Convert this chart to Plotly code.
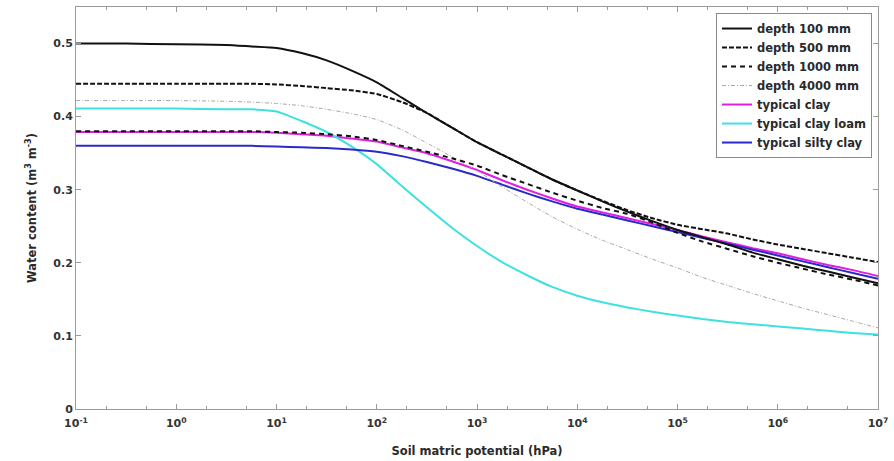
import plotly.graph_objects as go

# Soil matric potential sample points (hPa), as log10 exponents
log_h = [-1, -0.5, 0, 0.5, 0.75, 1, 1.25, 1.5, 1.75, 2, 2.25, 2.5, 2.75, 3, 3.25, 3.5, 3.75,
         4, 4.25, 4.5, 4.75, 5, 5.25, 5.5, 5.75, 6, 6.25, 6.5, 6.75, 7]
potential = [10 ** v for v in log_h]

depth_100 = [0.500, 0.500, 0.499, 0.498, 0.496, 0.494, 0.487, 0.477, 0.463, 0.447, 0.426, 0.405,
             0.385, 0.365, 0.348, 0.331, 0.314, 0.299, 0.284, 0.270, 0.257, 0.245, 0.235, 0.225,
             0.214, 0.205, 0.196, 0.188, 0.180, 0.172]
depth_500 = [0.445, 0.445, 0.445, 0.445, 0.445, 0.444, 0.442, 0.439, 0.436, 0.431, 0.420, 0.405,
             0.385, 0.365, 0.348, 0.331, 0.314, 0.299, 0.285, 0.272, 0.261, 0.252, 0.246, 0.240,
             0.232, 0.225, 0.219, 0.213, 0.207, 0.201]
depth_1000 = [0.380, 0.380, 0.380, 0.380, 0.380, 0.379, 0.378, 0.376, 0.373, 0.368, 0.360, 0.352,
              0.343, 0.333, 0.320, 0.308, 0.296, 0.285, 0.275, 0.267, 0.255, 0.241, 0.229, 0.219,
              0.209, 0.200, 0.192, 0.184, 0.177, 0.169]
depth_4000 = [0.422, 0.422, 0.422, 0.421, 0.420, 0.418, 0.415, 0.410, 0.404, 0.396, 0.382, 0.364,
              0.345, 0.326, 0.304, 0.283, 0.263, 0.246, 0.231, 0.218, 0.205, 0.193, 0.180, 0.169,
              0.158, 0.148, 0.138, 0.129, 0.120, 0.111]
typical_clay = [0.379, 0.379, 0.379, 0.379, 0.379, 0.378, 0.376, 0.374, 0.370, 0.366, 0.358, 0.350,
                0.339, 0.327, 0.313, 0.300, 0.288, 0.277, 0.269, 0.261, 0.253, 0.245, 0.236, 0.228,
                0.220, 0.213, 0.205, 0.197, 0.190, 0.182]
typical_clay_loam = [0.411, 0.411, 0.411, 0.410, 0.410, 0.407, 0.394, 0.379, 0.359, 0.335, 0.305, 0.276,
                     0.248, 0.223, 0.201, 0.183, 0.167, 0.155, 0.146, 0.139, 0.133, 0.128, 0.123, 0.119,
                     0.116, 0.113, 0.110, 0.107, 0.104, 0.102]
typical_silty_clay = [0.360, 0.360, 0.360, 0.360, 0.360, 0.359, 0.358, 0.357, 0.355, 0.352, 0.346, 0.338,
                      0.329, 0.319, 0.307, 0.295, 0.284, 0.274, 0.266, 0.258, 0.250, 0.242, 0.234, 0.226,
                      0.218, 0.210, 0.202, 0.194, 0.186, 0.178]

x_tick_exps = [-1, 0, 1, 2, 3, 4, 5, 6, 7]
y_ticks = [0, 0.1, 0.2, 0.3, 0.4, 0.5]

series = [
    # name, values, color, width, dash, legend rank
    ("typical clay", typical_clay, "#e01ee0", 2, "solid", 5),
    ("typical clay loam", typical_clay_loam, "#3ee0e0", 2, "solid", 6),
    ("typical silty clay", typical_silty_clay, "#2a2ac8", 2, "solid", 7),
    ("depth 4000 mm", depth_4000, "#a8a8a8", 1, "4px,2px,1px,2px", 4),
    ("depth 1000 mm", depth_1000, "#111111", 2, "5px,4px", 3),
    ("depth 500 mm", depth_500, "#111111", 2, "5px,2px", 2),
    ("depth 100 mm", depth_100, "#111111", 2, "solid", 1),
]

fig = go.Figure()
for name, vals, color, width, dash, rank in series:
    fig.add_trace(go.Scatter(
        x=potential, y=vals, mode="lines", name=name, legendrank=rank,
        line=dict(color=color, width=width, dash=dash, shape="spline", smoothing=0.5),
    ))

font_family = "DejaVu Sans, Verdana, sans-serif"
axis_color = "#9a9a9a"
text_color = "#2a2a2a"

fig.update_layout(
    width=894, height=461,
    margin=dict(l=76, r=15, t=6, b=51),
    paper_bgcolor="white", plot_bgcolor="white",
    font=dict(family=font_family, size=11, color=text_color, weight="bold"),
    showlegend=True,
    legend=dict(
        x=0.9925, y=0.985, xanchor="right", yanchor="top",
        bgcolor="white", bordercolor="#8a8a8a", borderwidth=1,
        font=dict(family=font_family, size=11.5, color=text_color, weight="bold"),
        tracegroupgap=0, itemwidth=30,
    ),
    xaxis=dict(
        type="log", range=[-1, 7],
        tickvals=[10 ** e for e in x_tick_exps],
        ticktext=["10<sup>%d</sup>" % e for e in x_tick_exps],
        ticks="inside", ticklen=5, tickcolor=axis_color,
        ticklabelstandoff=4,
        showline=True, linecolor=axis_color, linewidth=1, mirror="allticks",
        showgrid=False, zeroline=False,
        minor=dict(ticks="inside", ticklen=3, tickcolor=axis_color, showgrid=False),
        title=dict(text="Soil matric potential (hPa)", standoff=17,
                   font=dict(family=font_family, size=11.5, color=text_color, weight="bold")),
        tickfont=dict(family=font_family, size=11, color="#333333", weight="bold"),
    ),
    yaxis=dict(
        range=[0, 0.55],
        tickvals=y_ticks,
        ticktext=["%g" % v for v in y_ticks],
        ticks="inside", ticklen=5, tickcolor=axis_color,
        showline=True, linecolor=axis_color, linewidth=1, mirror="allticks",
        showgrid=False, zeroline=False,
        title=dict(text="Water content (m<sup>3</sup> m<sup>-3</sup>)", standoff=14,
                   font=dict(family=font_family, size=11.5, color=text_color, weight="bold")),
        tickfont=dict(family=font_family, size=11, color="#333333", weight="bold"),
    ),
)

fig.write_html("out.html")
